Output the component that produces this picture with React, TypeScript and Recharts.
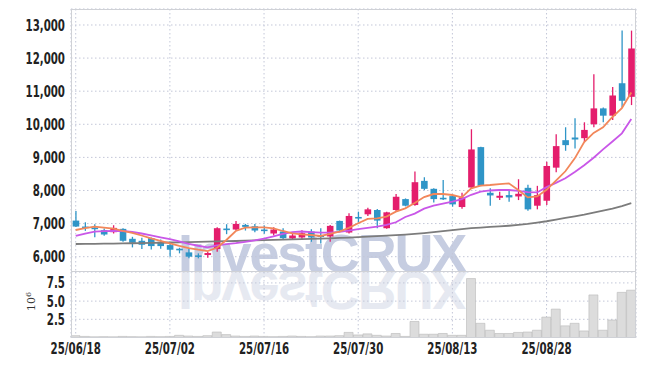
import React from "react";
import { Bar, CartesianGrid, ComposedChart, Line, XAxis, YAxis } from "recharts";

const dates = [
  "25/06/18", "25/06/19", "25/06/20", "25/06/23", "25/06/24", "25/06/25", "25/06/26", "25/06/27", "25/06/30", "25/07/01",
  "25/07/02", "25/07/03", "25/07/04", "25/07/07", "25/07/08", "25/07/09", "25/07/10", "25/07/11", "25/07/14", "25/07/15",
  "25/07/16", "25/07/17", "25/07/18", "25/07/21", "25/07/22", "25/07/23", "25/07/24", "25/07/25", "25/07/28", "25/07/29",
  "25/07/30", "25/07/31", "25/08/01", "25/08/04", "25/08/05", "25/08/06", "25/08/07", "25/08/08", "25/08/11", "25/08/12",
  "25/08/13", "25/08/14", "25/08/18", "25/08/19", "25/08/20", "25/08/21", "25/08/22", "25/08/25", "25/08/26", "25/08/27",
  "25/08/28", "25/08/29", "25/09/01", "25/09/02", "25/09/03", "25/09/04", "25/09/05", "25/09/08", "25/09/09", "25/09/10",
];

const opens = [
  7090, 6910, 6880, 6800, 6740, 6840, 6540, 6480, 6560, 6450,
  6350, 6240, 6130, 6040, 6050, 6230, 6850, 6820, 6960, 6920,
  6820, 6700, 6760, 6550, 6580, 6760, 6640, 6610, 7080, 6730,
  7200, 7280, 7410, 6860, 7410, 7740, 7560, 8290, 8050, 7780,
  7830, 7500, 8090, 9310, 7930, 7780, 7860, 7820, 8080, 7540,
  7690, 8690, 9520, 9600, 9580, 10000, 10480, 10260, 11240, 10830,
];
const closes = [
  6910, 6880, 6830, 6670, 6870, 6480, 6420, 6360, 6320, 6320,
  6210, 6210, 6000, 6020, 6110, 6860, 6830, 6990, 6900, 6790,
  6800, 6820, 6560, 6640, 6710, 6580, 6620, 6930, 6790, 7230,
  7180, 7430, 7090, 7340, 7810, 7540, 8250, 8050, 7740, 7760,
  7580, 7790, 9240, 8140, 7850, 7840, 7790, 7900, 7430, 7860,
  8740, 9340, 9370, 9540, 9830, 10480, 10260, 10870, 10710, 12290,
];
const highs = [
  7380, 7040, 6980, 6850, 6950, 6860, 6600, 6570, 6580, 6520,
  6400, 6270, 6250, 6100, 6140, 6890, 6980, 7080, 6990, 6990,
  6940, 6890, 6860, 6700, 6800, 6830, 6860, 6960, 7090, 7310,
  7360, 7480, 7440, 7360, 7890, 7760, 8570, 8400, 8070, 8320,
  7860, 7930, 9850, 9320, 8070, 7960, 8010, 8340, 8170, 8140,
  8870, 9700, 9910, 10180, 10060, 11510, 10510, 11130, 12830, 12830,
];
const lows = [
  6900, 6780, 6590, 6630, 6700, 6450, 6280, 6230, 6220, 6240,
  6000, 6100, 5950, 5950, 5970, 6150, 6680, 6790, 6790, 6740,
  6690, 6640, 6530, 6530, 6530, 6450, 6400, 6450, 6780, 6700,
  7030, 7230, 6860, 6840, 7360, 7520, 7540, 8010, 7640, 7710,
  7510, 7450, 8060, 8130, 7540, 7710, 7660, 7710, 7390, 7430,
  7560, 8550, 9200, 9270, 9470, 9910, 10060, 10130, 10510, 10580,
];

// moving averages
const ma5 = [
  6806, 6860, 6906, 6880, 6850, 6780, 6720, 6640, 6550, 6474,
  6400, 6323, 6260, 6210, 6170, 6270, 6504, 6776, 6876, 6888,
  6888, 6858, 6776, 6706, 6676, 6655, 6625, 6686, 6755, 6870,
  7010, 7140, 7160, 7210, 7359, 7461, 7620, 7800, 7893, 7893,
  7863, 7793, 8066, 8144, 8165, 8195, 8216, 8014, 7790, 7820,
  8020, 8300, 8580, 8971, 9460, 9740, 9908, 10220, 10490, 10960,
];
const ma20 = [
  6625, 6700, 6755, 6770, 6776, 6776, 6750, 6700, 6640, 6584,
  6530, 6460, 6390, 6330, 6284, 6340, 6380, 6410, 6450, 6490,
  6545, 6610, 6686, 6740, 6760, 6740, 6725, 6725, 6750, 6785,
  6830, 6870, 6910, 6960, 7040, 7200, 7300, 7450, 7540, 7600,
  7660, 7740, 7870, 7963, 8000, 8014, 8014, 7990, 7950, 7940,
  8100, 8230, 8370, 8560, 8760, 8990, 9240, 9480, 9727, 10159,
];
const ma60 = [
  6383, 6386, 6389, 6392, 6396, 6400, 6405, 6410, 6415, 6420,
  6428, 6434, 6440, 6446, 6452, 6460, 6467, 6474, 6482, 6490,
  6500, 6508, 6515, 6522, 6530, 6538, 6546, 6555, 6565, 6575,
  6590, 6605, 6620, 6635, 6650, 6668, 6690, 6712, 6740, 6770,
  6800, 6830, 6860, 6880, 6898, 6915, 6935, 6960, 6990, 7030,
  7070, 7120, 7170, 7220, 7270, 7330, 7390, 7450, 7530, 7620,
];
// volume in millions
const volumes = [
  0.25, 0.15, 0.1, 0.12, 0.1, 0.15, 0.12, 0.1, 0.15, 0.12,
  0.15, 0.3, 0.2, 0.15, 0.25, 0.75, 0.4, 0.2, 0.15, 0.2,
  0.15, 0.12, 0.15, 0.2, 0.15, 0.12, 0.2, 0.2, 0.25, 0.7,
  0.35, 0.5, 0.3, 0.2, 0.55, 0.15, 2.2, 0.45, 0.45, 0.55,
  0.3, 0.3, 8.1, 1.95, 1.0, 0.55, 0.55, 0.7, 0.75, 1.0,
  2.8, 3.9, 1.6, 1.95, 0.9, 5.85, 1.0, 2.4, 6.2, 6.5,
];

const priceTicks = [6000, 7000, 8000, 9000, 10000, 11000, 12000, 13000];
const volumeTicks = [2.5, 5, 7.5];

const UP = "#e41d6c";
const DOWN = "#2f95c7";
const GRID = "#c3c7d8";
const BORDER = "#cfd1d6";
const FONT = "'DejaVu Sans', sans-serif";

const data = dates.map((date, i) => ({
  date,
  range: [lows[i], highs[i]],
  open: opens[i],
  close: closes[i],
  ma5: ma5[i],
  ma20: ma20[i],
  ma60: ma60[i],
  volume: volumes[i],
}));

// narrow bold tick text, squeezed around its anchor point
function NarrowText({ x, y, anchor, dy, children }: any) {
  return (
    <text
      x={x}
      y={y}
      dy={dy}
      textAnchor={anchor}
      fontFamily={FONT}
      fontWeight={700}
      fontSize={15.5}
      fill="#222"
      transform={`translate(${x},0) scale(0.66,1) translate(${-x},0)`}
    >
      {children}
    </text>
  );
}

function PriceTick(props: any) {
  return (
    <NarrowText x={props.x} y={props.y} anchor="end" dy="0.36em">
      {Number(props.payload.value).toLocaleString("en-US")}
    </NarrowText>
  );
}

function VolumeTick(props: any) {
  return (
    <NarrowText x={props.x} y={props.y} anchor="end" dy="0.36em">
      {Number(props.payload.value).toFixed(1)}
    </NarrowText>
  );
}

function DateTick(props: any) {
  return (
    <NarrowText x={props.x} y={props.y} anchor="middle" dy="0.7em">
      {props.payload.value}
    </NarrowText>
  );
}

function Candle(props: any) {
  let { x, y, width, height } = props;
  const { open, close, range } = props.payload;
  if (height < 0) {
    y += height;
    height = -height;
  }
  const [low, high] = range;
  const k = height / (high - low || 1);
  const cx = x + width / 2;
  const top = Math.max(open, close);
  const bottom = Math.min(open, close);
  const bodyY = y + (high - top) * k;
  const bodyH = Math.max((top - bottom) * k, 1.6);
  const color = close >= open ? UP : DOWN;
  return (
    <g>
      <line x1={cx} x2={cx} y1={y} y2={y + height} stroke={color} strokeWidth={1.3} />
      <rect x={cx - 3.3} y={bodyY} width={6.6} height={bodyH} fill={color} />
    </g>
  );
}

function Watermark() {
  const common = {
    x: 178,
    y: 272,
    fontSize: 54,
    fontWeight: 700,
    fontFamily: "'Liberation Sans', Arial, sans-serif",
    letterSpacing: -2.2,
  };
  return (
    <svg width={645} height={366} style={{ position: "absolute", left: 0, top: 0 }}>
      <text {...common} fill="#c6cde1">InvestCRUX</text>
      <text {...common} fill="#e6e9f1" transform="translate(0,544) scale(1,-1)">
        InvestCRUX
      </text>
      <text
        transform="translate(34.5,311) rotate(-90)"
        fontSize={11}
        fontFamily="'DejaVu Serif', serif"
        fill="#333"
      >
        10
        <tspan dy={-4} fontSize={8}>6</tspan>
      </text>
    </svg>
  );
}

export default function App() {
  return (
    <div style={{ position: "absolute", left: 0, top: 0, width: 645, height: 366, background: "#fff" }}>
      <Watermark />
      <div style={{ position: "absolute", left: 0, top: 0 }}>
        <ComposedChart width={645} height={272} data={data} margin={{ top: 9, right: 9, bottom: 0, left: 0 }}>
          <CartesianGrid stroke={GRID} strokeDasharray="1.5 2.5" />
          <XAxis dataKey="date" hide interval={9} />
          <YAxis
            domain={[5537, 13483]}
            ticks={priceTicks}
            interval={0}
            width={71}
            tickLine={false}
            axisLine={false}
            tickSize={4}
            tickMargin={2}
            tick={<PriceTick />}
          />
          <Bar dataKey="range" shape={(p: any) => <Candle {...p} />} isAnimationActive={false} />
          <Line dataKey="ma60" stroke="#7c7c7c" strokeWidth={1.8} dot={false} type="linear" isAnimationActive={false} />
          <Line dataKey="ma20" stroke="#c957e8" strokeWidth={1.8} dot={false} type="linear" isAnimationActive={false} />
          <Line dataKey="ma5" stroke="#f2875a" strokeWidth={1.8} dot={false} type="linear" isAnimationActive={false} />
        </ComposedChart>
      </div>
      <div style={{ position: "absolute", left: 0, top: 272 }}>
        <ComposedChart
          width={645}
          height={94}
          data={data}
          barCategoryGap={0}
          margin={{ top: 0, right: 9, bottom: 0, left: 0 }}
        >
          <CartesianGrid stroke={GRID} strokeDasharray="1.5 2.5" />
          <XAxis
            dataKey="date"
            interval={9}
            height={28.5}
            tickLine={false}
            axisLine={false}
            tickSize={4}
            tickMargin={2}
            tick={<DateTick />}
          />
          <YAxis
            domain={[0, 9]}
            ticks={volumeTicks}
            interval={0}
            width={71}
            tickLine={false}
            axisLine={false}
            tickSize={4}
            tickMargin={2}
            tick={<VolumeTick />}
          />
          <Bar dataKey="volume" fill="#dcdcdc" stroke="#b9b9b9" strokeWidth={0.6} isAnimationActive={false} />
        </ComposedChart>
      </div>
      <div
        style={{
          position: "absolute",
          left: 71,
          top: 9,
          width: 565,
          height: 263,
          boxSizing: "border-box",
          border: `1px solid ${BORDER}`,
          pointerEvents: "none",
        }}
      />
      <div
        style={{
          position: "absolute",
          left: 71,
          top: 272,
          width: 565,
          height: 66,
          boxSizing: "border-box",
          border: `1px solid ${BORDER}`,
          borderTop: "none",
          pointerEvents: "none",
        }}
      />
    </div>
  );
}
